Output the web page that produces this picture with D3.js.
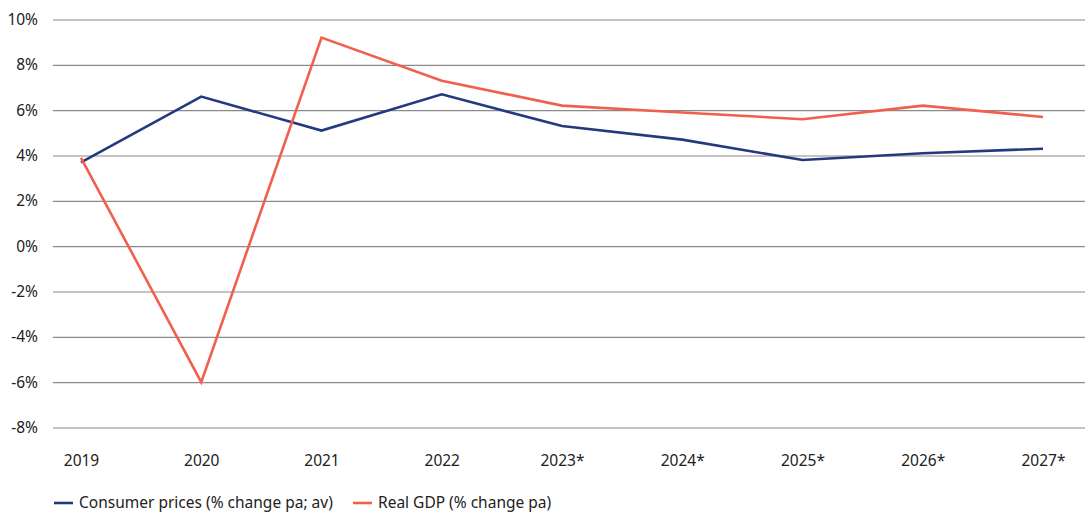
<!DOCTYPE html>
<html><head><meta charset="utf-8">
<script src="https://cdn.jsdelivr.net/npm/d3@7"></script>
<style>body{margin:0;background:#fff}svg{display:block}text{font-family:"Noto Sans",sans-serif;fill:#222}</style>
</head><body><svg id="c" width="1091" height="513"></svg>
<script>
const years = ["2019","2020","2021","2022","2023*","2024*","2025*","2026*","2027*"];
const consumerPrices = [3.7,6.6,5.1,6.7,5.3,4.7,3.8,4.1,4.3];
const realGDP = [3.9,-6.0,9.2,7.3,6.2,5.9,5.6,6.2,5.7];
const yTicks = [10,8,6,4,2,0,-2,-4,-6,-8];
const seriesNames = ["Consumer prices (% change pa; av)","Real GDP (% change pa)"];
const colors = ["#253a7e","#f0604d"];

const svg = d3.select("#c");
const x = d3.scalePoint().domain(years).range([81,1043]);
const y = d3.scaleLinear().domain([-8,10]).range([427.5,19.5]);
const gl = 53, gr = 1085;
const fs = 15.5;

const ga = svg.append("g").attr("transform",`translate(${gl},0)`)
  .call(d3.axisLeft(y).tickValues(yTicks).tickSize(-(gr-gl)).tickPadding(15).tickFormat(d=>d+"%"));
ga.select(".domain").remove();
ga.selectAll(".tick line").attr("stroke","#8a8a8a").attr("stroke-width",1.2);
ga.selectAll(".tick text").attr("font-size",fs).attr("fill","#222").style("font-family","'Noto Sans',sans-serif");

const gx = svg.append("g").attr("transform","translate(0,455)")
  .call(d3.axisBottom(x).tickSize(0).tickPadding(0));
gx.select(".domain").remove();
gx.selectAll(".tick text").attr("font-size",fs).attr("fill","#222").attr("dy","0.71em").style("font-family","'Noto Sans',sans-serif");

const line = d3.line().x((d,i)=>x(years[i])).y(d=>y(d));
[consumerPrices, realGDP].forEach((s,k)=>{
  svg.append("path").datum(s).attr("d",line).attr("fill","none")
    .attr("stroke",colors[k]).attr("stroke-width",2.6).attr("stroke-linejoin","miter");
});

const legX = [54,353];
seriesNames.forEach((n,k)=>{
  const g = svg.append("g").attr("transform",`translate(${legX[k]},503)`);
  g.append("line").attr("x1",0).attr("x2",19).attr("stroke",colors[k]).attr("stroke-width",2.6);
  g.append("text").attr("x",25).attr("y",0).attr("dy","0.35em").attr("font-size",fs).text(n);
});
</script></body></html>
